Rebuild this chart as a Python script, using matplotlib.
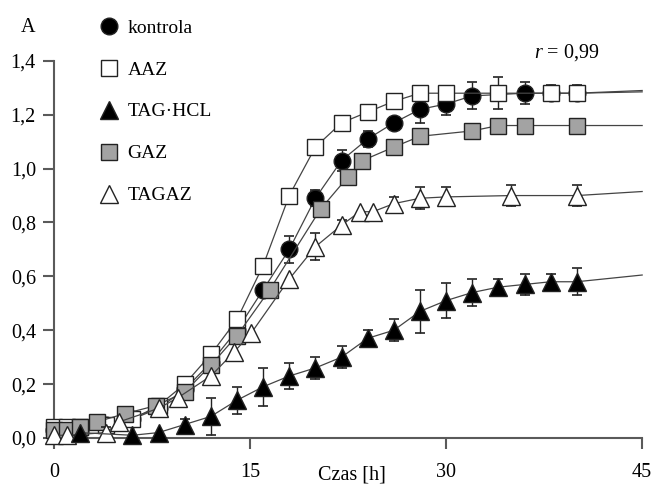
import matplotlib
matplotlib.use("Agg")
import matplotlib.pyplot as plt
from matplotlib.lines import Line2D
from matplotlib.ticker import FuncFormatter

plt.rcParams['font.family'] = ['Liberation Serif', 'DejaVu Serif']
plt.rcParams['mathtext.fontset'] = 'custom'
plt.rcParams['mathtext.rm'] = 'Liberation Serif'
plt.rcParams['mathtext.it'] = 'Liberation Serif:italic'

# ==== DATA ====
kon_t = [0, 2, 4, 6, 8, 10, 12, 14, 16, 18, 20, 22, 24, 26, 28, 30, 32, 36, 38, 40]
kon_y = [0.03, 0.03, 0.05, 0.07, 0.11, 0.18, 0.28, 0.40, 0.55, 0.70, 0.89, 1.03, 1.11, 1.17, 1.22, 1.24, 1.27, 1.28, 1.28, 1.28]
kon_err = [0, 0, 0, 0, 0, 0, 0, 0, 0, 0.05, 0.03, 0.04, 0.03, 0, 0.05, 0.04, 0.05, 0.04, 0, 0]
kon_end = 1.285

aaz_t = [0, 1, 2, 4, 6, 8, 10, 12, 14, 16, 18, 20, 22, 24, 26, 28, 30, 34, 38, 40]
aaz_y = [0.04, 0.04, 0.04, 0.05, 0.07, 0.12, 0.20, 0.31, 0.44, 0.64, 0.90, 1.08, 1.17, 1.21, 1.25, 1.28, 1.28, 1.28, 1.28, 1.28]
aaz_err = [0, 0, 0, 0, 0, 0, 0, 0, 0, 0, 0, 0, 0, 0, 0, 0, 0, 0.06, 0.03, 0.03]
aaz_end = 1.29

tag_t = [2, 6, 8, 10, 12, 14, 16, 18, 20, 22, 24, 26, 28, 30, 32, 34, 36, 38, 40]
tag_y = [0.02, 0.01, 0.02, 0.05, 0.08, 0.14, 0.19, 0.23, 0.26, 0.30, 0.37, 0.40, 0.47, 0.51, 0.54, 0.56, 0.57, 0.58, 0.58]
tag_err = [0, 0, 0, 0.02, 0.07, 0.05, 0.07, 0.05, 0.04, 0.04, 0.03, 0.04, 0.08, 0.065, 0.05, 0.03, 0.04, 0.03, 0.05]
tag_end = 0.605

gaz_t = [0, 1, 2, 3.3, 5.4, 7.8, 10, 12, 14, 16.5, 20.4, 22.5, 23.6, 26, 28, 32, 34, 36, 40]
gaz_y = [0.03, 0.03, 0.04, 0.06, 0.09, 0.12, 0.17, 0.27, 0.38, 0.55, 0.85, 0.97, 1.03, 1.08, 1.12, 1.14, 1.16, 1.16, 1.16]
gaz_err = [0] * len(gaz_t)
gaz_end = 1.16

tagaz_t = [0, 1, 4, 5, 8, 9.5, 12, 13.8, 15.1, 18, 20, 22, 23.4, 24.4, 26, 28, 30, 35, 40]
tagaz_y = [0.01, 0.01, 0.02, 0.06, 0.11, 0.15, 0.23, 0.32, 0.39, 0.59, 0.71, 0.79, 0.84, 0.84, 0.87, 0.89, 0.895, 0.90, 0.90]
tagaz_err = [0, 0, 0.02, 0, 0, 0, 0, 0, 0, 0, 0.05, 0.02, 0, 0, 0.025, 0.04, 0.035, 0.04, 0.04]
tagaz_end = 0.915

labels = ["kontrola", "AAZ", "TAG\u00b7HCL", "GAZ", "TAGAZ"]

# ==== PLOT ====
fig = plt.figure(figsize=(6.55, 4.91), dpi=100)
ax = fig.add_axes([0.0824, 0.108, 0.898, 0.768])

line_col = "#444444"
edge_col = "#222222"
MS = 12


def draw(t, y, err, end, marker, face, z, ms=MS):
    ax.plot(list(t) + [45], list(y) + [end], color=line_col, lw=0.9, zorder=z, clip_on=False)
    et = [a for a, e in zip(t, err) if e > 0]
    ey = [b for b, e in zip(y, err) if e > 0]
    ee = [e for e in err if e > 0]
    if et:
        eb = ax.errorbar(et, ey, yerr=ee, fmt="none", ecolor=edge_col, elinewidth=1,
                         capsize=3.6, capthick=1.2, zorder=z + 0.1)
        for art in list(eb.lines[1]) + list(eb.lines[2]):
            art.set_clip_on(False)
    ax.plot(t, y, ls="none", marker=marker, ms=ms, mfc=face, mec=edge_col, mew=1,
            zorder=z + 0.2, clip_on=False)


draw(kon_t, kon_y, kon_err, kon_end, "o", "black", 2)
draw(aaz_t, aaz_y, aaz_err, aaz_end, "s", "white", 3)
draw(gaz_t, gaz_y, gaz_err, gaz_end, "s", "#a3a3a3", 4)
draw(tagaz_t, tagaz_y, tagaz_err, tagaz_end, "^", "white", 5, ms=13)
draw(tag_t, tag_y, tag_err, tag_end, "^", "black", 6, ms=13)

ax.set_xlim(0, 45)
ax.set_ylim(0, 1.4)
ax.set_xticks([0, 15, 30, 45])
ax.set_yticks([0, 0.2, 0.4, 0.6, 0.8, 1.0, 1.2, 1.4])
ax.yaxis.set_major_formatter(FuncFormatter(lambda v, p: f"{v:.1f}".replace(".", ",")))

for side in ["top", "right"]:
    ax.spines[side].set_visible(False)
for side in ["left", "bottom"]:
    ax.spines[side].set_color("#5a5a5a")
    ax.spines[side].set_linewidth(1.5)
ax.spines["left"].set_bounds(0, 1.4)
ax.spines["bottom"].set_bounds(0, 45)
ax.tick_params(direction="out", length=8, width=1.5, color="#5a5a5a", labelsize=14.5)
ax.tick_params(axis="y", pad=5)
ax.tick_params(axis="x", pad=10)

fig.text(0.043, 0.943, "A", fontsize=14.5, ha="center", va="center")
fig.text(0.537, 0.033, "Czas [h]", fontsize=14.5, ha="center", va="center")
fig.text(0.866, 0.892, r"$\mathit{r}$ = 0,99", fontsize=14.5, ha="center", va="center")

handles = [
    Line2D([], [], ls="none", marker="o", ms=MS, mfc="black", mec=edge_col),
    Line2D([], [], ls="none", marker="s", ms=MS, mfc="white", mec=edge_col),
    Line2D([], [], ls="none", marker="^", ms=13, mfc="black", mec=edge_col),
    Line2D([], [], ls="none", marker="s", ms=MS, mfc="#a3a3a3", mec=edge_col),
    Line2D([], [], ls="none", marker="^", ms=13, mfc="white", mec=edge_col),
]
ax.legend(handles, labels, loc="upper left", bbox_to_anchor=(0.137, 0.981),
          bbox_transform=fig.transFigure, frameon=False, fontsize=14,
          labelspacing=1.25, handlelength=1.0, handletextpad=0.45, borderpad=0)

plt.savefig("out.png", dpi=100)
